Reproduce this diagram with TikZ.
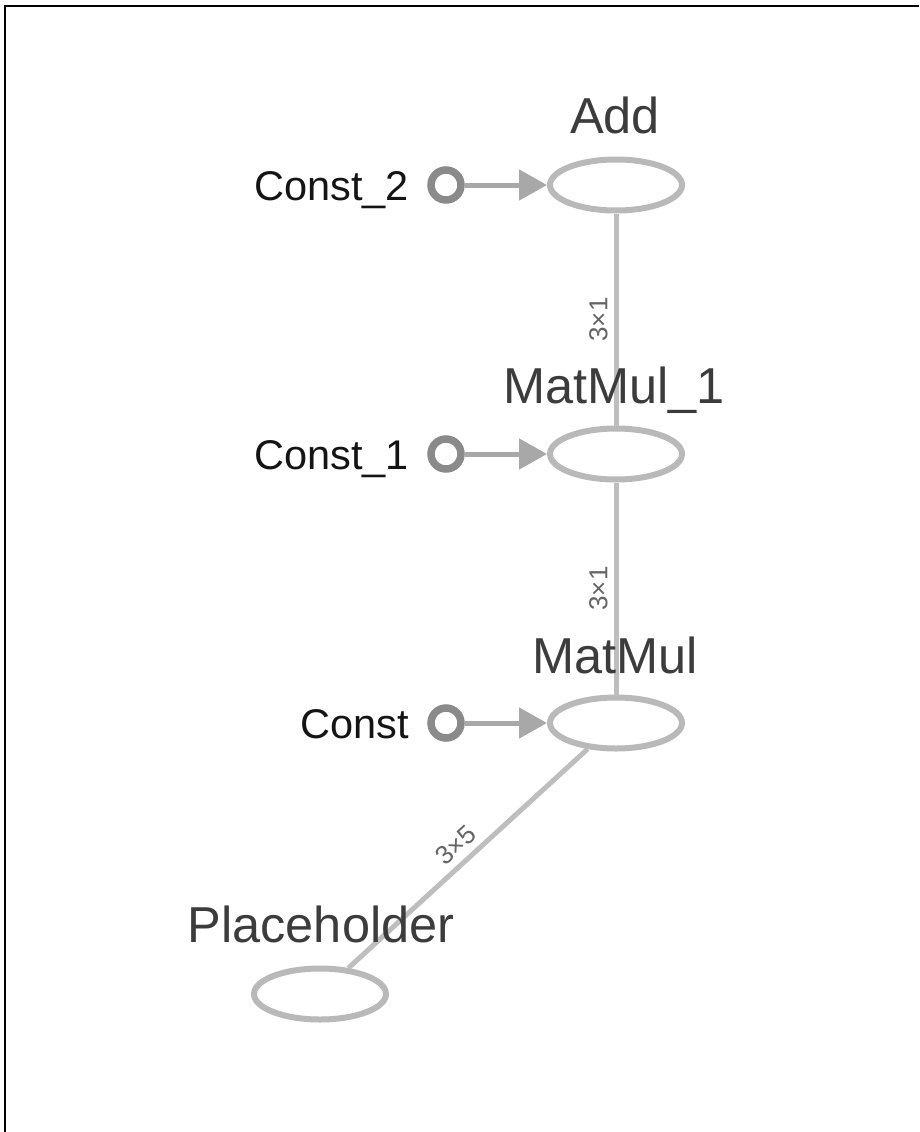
\documentclass[tikz,border=0pt]{standalone}
\usepackage{fontspec}
\setmainfont{Liberation Sans}
\usetikzlibrary{shapes.geometric,arrows.meta}
\definecolor{opline}{RGB}{185,185,185}
\definecolor{edgeline}{RGB}{190,190,190}
\definecolor{constline}{RGB}{138,138,138}
\definecolor{ctrl}{RGB}{168,168,168}
\definecolor{oplabel}{RGB}{60,60,60}
\definecolor{constlabel}{RGB}{20,20,20}
\definecolor{elabel}{RGB}{100,100,100}
\tikzset{
  opnode/.style={ellipse, draw=opline, line width=6pt, minimum width=132pt, minimum height=51pt, inner sep=0pt},
  constnode/.style={circle, draw=constline, line width=7.5pt, minimum size=30pt, inner sep=0pt},
  oplbl/.style={anchor=base, text=oplabel, font=\fontsize{50.5}{60}\selectfont, inner sep=0pt},
  constlbl/.style={anchor=base east, text=constlabel, font=\fontsize{41.5}{50}\selectfont, inner sep=0pt},
  dataedge/.style={draw=edgeline, line width=5pt},
  ctrledge/.style={draw=ctrl, line width=5pt, -{Triangle[length=28pt,width=30pt]}},
  elbl/.style={text=elabel, font=\fontsize{26}{30}\selectfont, sloped, above, inner sep=6pt},
}
\begin{document}
\begin{tikzpicture}[x=1pt,y=-1pt]
\useasboundingbox (0,0) rectangle (919,1132);
\fill[white] (0,0) rectangle (919,1132);
\draw[line width=2.5pt, black] (5,1132) -- (5,6) -- (919,6);

% op nodes
\node[opnode] (add) at (616,185) {};
\node[opnode] (mm1) at (616,454) {};
\node[opnode] (mm) at (616,723) {};
\node[opnode] (ph) at (320,994) {};

% const nodes
\node[constnode] (c2) at (446,185) {};
\node[constnode] (c1) at (446,454) {};
\node[constnode] (c0) at (446,723) {};

% data edges
\draw[dataedge] (mm1) -- node[elbl] {3×1} (add);
\draw[dataedge] (mm) -- node[elbl] {3×1} (mm1);
\draw[dataedge] (ph) -- node[elbl] {3×5} (mm);

% const edges
\draw[ctrledge] (c2) -- (add);
\draw[ctrledge] (c1) -- (mm1);
\draw[ctrledge] (c0) -- (mm);

% labels
\node[oplbl] (addl) at (615,133) {Add};
\node[oplbl] (mm1l) at (614,403) {MatMul\_1};
\node[oplbl] (mml) at (615,673) {MatMul};
\node[oplbl] (phl) at (321,942) {Placeholder};
\node[constlbl] (c2l) at (409,200) {Const\_2};
\node[constlbl] (c1l) at (409,469) {Const\_1};
\node[constlbl] (c0l) at (409,738) {Const};
\end{tikzpicture}
\end{document}
